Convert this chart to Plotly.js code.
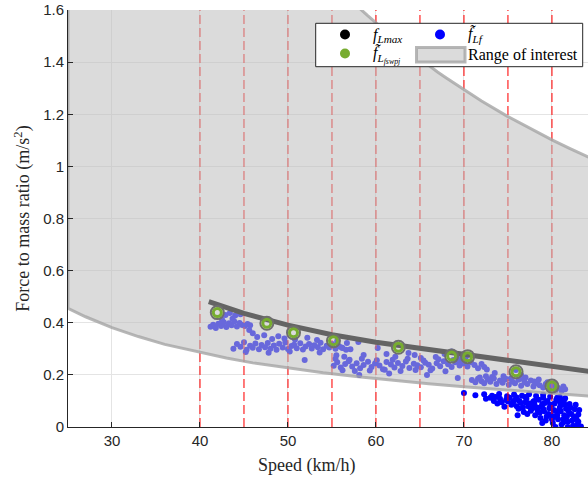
<!DOCTYPE html>
<html>
<head>
<meta charset="utf-8">
<script src="https://cdn.plot.ly/plotly-3.0.1.min.js"></script>
<style>html,body{margin:0;padding:0;background:#fff}#chart{width:588px;height:481px}</style>
</head>
<body>
<div id="chart"></div>
<script>
// ---- data ----
const xTicks = [30, 40, 50, 60, 70, 80];
const yTicks = [0, 0.2, 0.4, 0.6, 0.8, 1, 1.2, 1.4, 1.6];
const yTickText = ['0', '0.2', '0.4', '0.6', '0.8', '1', '1.2', '1.4', '1.6'];
const speedMarks = [40, 45, 50, 55, 60, 65, 70, 75, 80];

const upperX = [25, 30, 35, 40, 45, 50, 55, 56, 57, 58, 59, 60, 61, 62, 63, 64, 65, 66, 67, 68, 70, 72, 75, 78, 80, 82, 84.5];
const upperY = [4.06, 3.34, 2.83, 2.445, 2.147, 1.908, 1.713, 1.678, 1.644, 1.611, 1.580, 1.550, 1.520, 1.492, 1.464, 1.438, 1.412, 1.387, 1.362, 1.339, 1.294, 1.251, 1.191, 1.136, 1.102, 1.069, 1.030];
const lowerX = [25, 27, 30, 33, 36, 40, 43, 46, 50, 54, 58, 62, 66, 70, 74, 78, 82, 84.5];
const lowerY = [0.455, 0.423, 0.381, 0.347, 0.317, 0.287, 0.265, 0.246, 0.226, 0.208, 0.193, 0.179, 0.166, 0.154, 0.143, 0.133, 0.124, 0.118];

const fLmaxX = [41, 45, 50, 55, 60, 65, 70, 75, 80, 84.5];
const fLmaxY = [0.481, 0.436, 0.391, 0.354, 0.325, 0.302, 0.281, 0.254, 0.232, 0.212];

const swpjX = [41.97, 47.6, 50.63, 55.17, 62.55, 68.6, 70.42, 75.92, 80.0];
const swpjY = [0.439, 0.398, 0.362, 0.331, 0.306, 0.272, 0.270, 0.212, 0.157];

const fLfX = [
 41.2,41.5,41.8,42.1,42.4,42.7,43.0,43.3,43.6,43.9,44.2,44.5,44.8,45.1,45.4,42.9,43.4,44.0,44.6,42.5,43.7,45.7,
 43.8,44.2,44.6,45.0,45.3,45.7,46.0,46.3,46.7,47.0,47.4,47.7,48.0,48.4,48.7,49.0,49.4,49.7,50.0,50.4,50.7,51.0,51.4,51.7,52.0,52.4,52.7,53.0,53.4,53.7,54.0,54.4,54.7,55.0,55.4,55.8,56.2,56.6,
 45.6,46.5,47.3,48.2,48.9,49.6,50.8,52.2,53.3,46.0,51.9,45.2,47.8,50.2,53.6,
 55.2,55.6,56.0,56.5,56.9,57.3,57.8,58.2,58.6,59.1,59.5,59.9,60.4,60.8,61.2,61.7,62.1,62.5,63.0,63.4,63.8,64.3,64.7,65.1,65.6,66.0,66.4,66.9,67.3,67.7,68.2,68.6,69.0,69.5,69.9,
 55.4,56.2,57.0,57.6,58.4,59.3,60.1,61.0,61.9,62.8,63.6,64.5,65.4,66.2,67.1,67.9,68.8,69.7,
 55.0,55.6,56.1,56.7,57.1,58.0,58.6,60.2,62.2,63.7,65.1,66.8,55.5,56.4,61.2,64.4,67.8,68.6,
 58.1,65.8,69.3,61.5,
 69.2,69.6,70.0,70.4,70.8,71.2,71.6,72.0,72.3,72.6,70.2,
 70.9,71.3,71.6,72.0,72.3,72.7,73.0,73.4,73.7,74.1,74.4,74.8,75.1,75.5,75.8,76.2,76.5,76.9,77.2,77.6,77.9,78.3,78.6,79.0,79.3,79.7,80.0,80.4,80.7,81.1,81.5,
 73.5,75.9,74.5,77.0,78.5,76.5,
 71.8,73.2,74.6,75.3,76.8,78.0,79.5,80.3,81.3,72.5,
 70.0,71.3,72.3,73.2,74.0,74.9,75.7,76.6,77.4,78.2,79.0,79.8,80.6,81.4,
 72.5,73.4,74.1,73.8,74.6,75.0,
 75.4,75.8,76.2,76.5,76.8,77.1,77.3,77.6,77.9,
 78.1,78.3,78.5,78.7,78.9,79.1,79.3,79.5,79.7,79.9,80.1,80.3,80.5,80.7,80.9,
 81.1,81.2,81.4,81.6,81.8,82.0,82.2,82.4,82.6,82.8,83.0,83.3,82.7,81.9,
 76.0,77.0,78.0,79.0,80.0,80.8,81.5,79.6,78.6,80.2,81.3,
 73.0,73.6,74.3,74.8,75.2,75.6,76.0,76.3,76.7,77.0,77.5,77.8,78.0,78.4,78.8,79.2,79.4,79.8,80.0,80.2,
 80.5,80.6,81.0,81.0,81.3,81.7,82.1,82.3,82.5,83.0,83.1,82.9,81.5,77.2,78.9,80.4,81.8,76.1,79.0,80.9
];
const fLfY = [
 0.385,0.392,0.380,0.396,0.388,0.402,0.384,0.398,0.390,0.405,0.386,0.399,0.391,0.388,0.395,0.430,0.437,0.428,0.433,0.412,0.415,0.390,
 0.300,0.318,0.308,0.325,0.296,0.312,0.304,0.320,0.298,0.315,0.306,0.322,0.300,0.313,0.296,0.319,0.305,0.324,0.299,0.311,0.316,0.302,0.321,0.297,0.309,0.318,0.301,0.314,0.306,0.323,0.298,0.312,0.305,0.317,0.300,0.310,0.303,0.296,
 0.372,0.345,0.352,0.338,0.348,0.340,0.336,0.342,0.334,0.360,0.257,0.288,0.285,0.290,0.286,
 0.235,0.248,0.228,0.242,0.252,0.232,0.245,0.225,0.238,0.250,0.230,0.244,0.236,0.222,0.249,0.240,0.228,0.246,0.234,0.251,0.226,0.243,0.237,0.229,0.247,0.239,0.224,0.245,0.233,0.252,0.241,0.230,0.248,0.236,0.244,
 0.262,0.218,0.258,0.215,0.262,0.217,0.256,0.220,0.258,0.215,0.262,0.219,0.255,0.218,0.260,0.214,0.257,0.262,
 0.318,0.330,0.305,0.322,0.298,0.326,0.276,0.303,0.270,0.284,0.265,0.269,0.275,0.270,0.280,0.276,0.280,0.290,
 0.200,0.200,0.188,0.205,
 0.262,0.245,0.255,0.232,0.248,0.238,0.225,0.242,0.230,0.221,0.268,
 0.180,0.172,0.185,0.176,0.168,0.182,0.174,0.186,0.165,0.178,0.170,0.184,0.162,0.175,0.168,0.181,0.158,0.172,0.165,0.178,0.155,0.168,0.160,0.152,0.165,0.145,0.158,0.140,0.150,0.138,0.145,
 0.207,0.219,0.195,0.190,0.182,0.200,
 0.190,0.192,0.182,0.185,0.182,0.175,0.172,0.165,0.155,0.195,
 0.130,0.122,0.126,0.120,0.127,0.118,0.125,0.120,0.126,0.119,0.124,0.116,0.112,0.105,
 0.108,0.100,0.108,0.090,0.078,0.098,
 0.085,0.105,0.070,0.092,0.058,0.108,0.080,0.062,0.098,
 0.045,0.075,0.105,0.035,0.088,0.060,0.025,0.100,0.072,0.045,0.015,0.090,0.060,0.030,0.075,
 0.010,0.098,0.045,0.070,0.020,0.088,0.050,0.005,0.068,0.030,0.048,0.002,0.085,0.060,
 0.113,0.095,0.088,0.112,0.085,0.100,0.085,0.050,0.055,0.040,0.030,
 0.112,0.115,0.095,0.105,0.112,0.095,0.080,0.100,0.075,0.115,0.090,0.072,0.100,0.060,0.078,0.092,0.040,0.085,0.030,0.065,
 0.105,0.045,0.060,0.085,0.018,0.040,0.075,0.025,0.040,0.020,0.065,0.010,0.110,0.050,0.015,0.000,0.000,0.045,0.070,0.115
];

// ---- build helper arrays ----
const markX = [], markY = [];
speedMarks.forEach(v => { markX.push(v, v, null); markY.push(0, 1.6, null); });
const bandX = upperX.concat(lowerX.slice().reverse(), [upperX[0]]);
const bandY = upperY.concat(lowerY.slice().reverse(), [upperY[0]]);

const serif = 'Liberation Serif, Times New Roman, serif';
const sans = 'Liberation Sans, Arial, Helvetica, sans-serif';
const bandFill = 'rgba(190,190,190,0.55)';
const bandLine = 'rgba(165,165,165,0.8)';
const green = '#77ac30';

const traces = [
  {x: fLfX, y: fLfY, type: 'scatter', mode: 'markers', name: 'f̃Lf',
   marker: {color: '#0000ff', size: 6}, hoverinfo: 'skip'},
  {x: markX, y: markY, type: 'scatter', mode: 'lines', hoverinfo: 'skip',
   line: {color: 'rgba(255,0,0,0.8)', width: 1.3, dash: '9px,4px'}},
  {x: bandX, y: bandY, type: 'scatter', mode: 'lines', fill: 'toself', name: 'Range of interest',
   fillcolor: bandFill, line: {color: bandLine, width: 3}, hoverinfo: 'skip'},
  {x: fLmaxX, y: fLmaxY, type: 'scatter', mode: 'lines', name: 'fLmax', hoverinfo: 'skip',
   line: {color: '#646464', width: 5}},
  {x: swpjX, y: swpjY, type: 'scatter', mode: 'markers', hoverinfo: 'skip',
   marker: {size: 13, color: 'rgba(0,0,0,0)', line: {color: '#6e6e6e', width: 2}}},
  {x: swpjX, y: swpjY, type: 'scatter', mode: 'markers', name: 'f̃Lfswpj', hoverinfo: 'skip',
   marker: {size: 8, color: 'rgba(0,0,0,0)', line: {color: green, width: 3}}}
];

// legend geometry (pixels in the 588x481 page) -> paper coordinates
const L = 68, T = 10, W = 520, H = 417;
const px = v => (v - L) / W;
const py = v => (T + H - v) / H;

const shapes = [
  {type: 'rect', xref: 'paper', yref: 'paper', x0: px(315.7), x1: px(582.7), y0: py(66.7), y1: py(23.3),
   fillcolor: '#ffffff', line: {color: '#262626', width: 1}, layer: 'above'},
  {type: 'circle', xref: 'paper', yref: 'paper', xsizemode: 'pixel', ysizemode: 'pixel',
   xanchor: px(345), yanchor: py(34.5), x0: -5, x1: 5, y0: -5, y1: 5,
   fillcolor: '#000000', line: {width: 0}, layer: 'above'},
  {type: 'circle', xref: 'paper', yref: 'paper', xsizemode: 'pixel', ysizemode: 'pixel',
   xanchor: px(440), yanchor: py(34.5), x0: -5, x1: 5, y0: -5, y1: 5,
   fillcolor: '#0000ff', line: {width: 0}, layer: 'above'},
  {type: 'circle', xref: 'paper', yref: 'paper', xsizemode: 'pixel', ysizemode: 'pixel',
   xanchor: px(345), yanchor: py(53.5), x0: -5, x1: 5, y0: -5, y1: 5,
   fillcolor: green, line: {width: 0}, layer: 'above'},
  {type: 'rect', xref: 'paper', yref: 'paper', x0: px(416.5), x1: px(465), y0: py(62), y1: py(47.5),
   fillcolor: bandFill, line: {color: bandLine, width: 3}, layer: 'above'}
];

const legFont = {family: serif, size: 16, color: '#000000'};
const annotations = [
  {text: 'Speed (km/h)', xref: 'paper', yref: 'paper', x: px(306), y: py(465), xanchor: 'center', yanchor: 'middle',
   showarrow: false, font: {family: serif, size: 18, color: '#262626'}},
  {text: '<i>f</i><sub><i>Lmax</i></sub>', xref: 'paper', yref: 'paper', x: px(372), y: py(35.5),
   xanchor: 'left', yanchor: 'middle', showarrow: false, borderpad: 0, font: legFont},
  {text: '<i>f̃</i><sub><i>Lf</i></sub>', xref: 'paper', yref: 'paper', x: px(467), y: py(35.5),
   xanchor: 'left', yanchor: 'middle', showarrow: false, borderpad: 0, font: legFont},
  {text: '<i>f̃</i><sub><i>L<sub>fswpj</sub></i></sub>', xref: 'paper', yref: 'paper', x: px(372), y: py(55),
   xanchor: 'left', yanchor: 'middle', showarrow: false, borderpad: 0, font: legFont},
  {text: 'Range of interest', xref: 'paper', yref: 'paper', x: px(467), y: py(55),
   xanchor: 'left', yanchor: 'middle', showarrow: false, borderpad: 0, font: legFont}
];

const layout = {
  width: 588, height: 481,
  margin: {l: L, r: 0, t: T, b: 481 - T - H},
  paper_bgcolor: '#ffffff', plot_bgcolor: '#ffffff',
  showlegend: false,
  xaxis: {range: [25, 84.1], tickvals: xTicks, ticks: 'inside', ticklen: 5, tickcolor: '#262626',
    showline: true, linecolor: '#262626', linewidth: 1, mirror: false, zeroline: false,
    showgrid: true, gridcolor: '#e4e4e4', gridwidth: 1,
    tickfont: {family: sans, size: 15, color: '#262626'}},
  yaxis: {range: [0, 1.6], tickvals: yTicks, ticktext: yTickText, ticks: 'inside', ticklen: 5, tickcolor: '#262626',
    showline: true, linecolor: '#262626', linewidth: 1, mirror: false, zeroline: false,
    showgrid: true, gridcolor: '#e4e4e4', gridwidth: 1,
    tickfont: {family: sans, size: 15, color: '#262626'},
    title: {text: 'Force to mass ratio (m/s<sup>2</sup>)', font: {family: serif, size: 18, color: '#262626'}, standoff: 8}},
  shapes: shapes,
  annotations: annotations
};

Plotly.newPlot('chart', traces, layout, {displayModeBar: false, staticPlot: true});
</script>
</body>
</html>
